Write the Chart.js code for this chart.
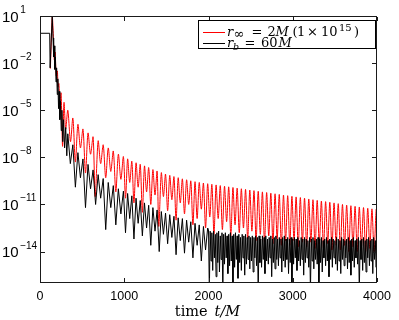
<!DOCTYPE html>
<html><head><meta charset="utf-8">
<script src="https://cdn.jsdelivr.net/npm/chart.js@4/dist/chart.umd.min.js"></script>
<style>html,body{margin:0;padding:0;background:#fff;}#wrap{width:399px;height:320px;position:relative;}</style>
</head><body><div id="wrap"><canvas id="c" width="399" height="320"></canvas></div>
<script>
// ---- tick labels / axis ----
const xTicks = [0, 1000, 2000, 3000, 4000];
const yTickExp = [1, -2, -5, -8, -11, -14];
const seriesNames = ['r∞ = 2M(1 × 10^15)', 'r_b = 60M'];
const seriesColors = ['#ff0000', '#000000'];

// ---- red series: r_inf = 2M(1e15) (time, log10 |psi|) ----
const redT = [123,146,160,170,180,192,206,214,224,236,250,268,285,305,
330,362,390,420,450,480,510,540,570,600,630,655,690,720,750,780,810,840,870,900,930,960,990,1015,
1040,1065,1090,1115,1140,1165,1190,1215,1240,1265,1290,1315,1340,1365,1390,1410,1440,1465,1490,1515,1540,1565,1590,1615,1640,1665,1690,1715,1740,1765,1790,1815,1840,1865,1890,1915,1940,1965,1990,2015,
2040,2065,2090,2115,2140,2165,2190,2215,2240,2265,2290,2315,2340,2365,2390,2415,2440,2465,2490,2515,2540,2565,2590,2615,2640,2665,2690,2715,2740,2765,2790,2815,2840,2865,2890,2915,2940,2965,2990,3015,3040,3065,3090,3115,3140,3165,3190,3215,3240,3265,3290,3315,3340,3365,3390,3415,3440,3465,3490,3515,3540,3565,3590,3615,3640,3665,3690,3715,3740,3765,3790,3815,3840,3865,3890,3915,3940,3965,3990,4000];
const redLog = [-2.35,0.95,-0.6,-1.8,-1.3,-2.8,-2.5,-3.5,-3.3,-4.6,-3.9,-7.3,-4.5,-6.2,
-5.0,-7.0,-5.5,-8.3,-5.9,-7.4,-6.2,-9.0,-6.45,-7.8,-6.7,-10.5,-6.95,-8.4,-7.2,-9.3,-7.4,-8.9,-7.6,-10.2,-7.8,-9.4,-7.95,-10.6,
-8.1,-9.6,-8.25,-10.9,-8.35,-9.9,-8.45,-11.5,-8.55,-10.2,-8.65,-11.0,-8.78,-10.4,-8.88,-12.4,-8.98,-10.5,-9.07,-11.4,-9.15,-10.7,-9.23,-12.0,-9.3,-10.9,-9.37,-11.6,-9.43,-11.0,-9.5,-12.3,-9.55,-11.9,-9.6,-11.3,-9.64,-12.5,-9.68,-11.8,
-9.72,-12.9,-9.76,-11.9,-9.8,-12.6,-9.84,-12.1,-9.88,-13.0,-9.92,-12.3,-9.96,-12.8,-10.0,-12.5,-10.04,-13.2,-10.08,-12.7,-10.12,-13.3,-10.16,-12.9,-10.2,-13.4,-10.24,-13.0,-10.28,-13.5,-10.32,-13.2,-10.36,-13.6,-10.4,-13.3,-10.44,-13.6,-10.48,-13.3,-10.52,-13.7,-10.56,-13.4,-10.6,-13.7,-10.65,-13.4,-10.7,-13.8,-10.74,-13.5,-10.78,-13.8,-10.82,-13.5,-10.86,-13.9,-10.9,-13.6,-10.95,-13.9,-11.0,-13.6,-11.04,-14.0,-11.08,-13.7,-11.12,-14.0,-11.16,-13.7,-11.2,-14.0,-11.24,-13.8,-11.28,-14.0,-11.32,-11.6];

// ---- black series: r_b = 60M, ringdown part ----
const blackT = [0,115,120,145,155,162,168,176,183,190,197,205,212,220,227,235,243,252,260,270,280,292,305,318,
330,360,390,420,450,480,510,540,570,600,630,660,690,720,750,780,810,840,870,900,930,960,990,1015,
1040,1065,1090,1115,1140,1165,1190,1215,1240,1265,1290,1315,1340,1365,1390,1415,1440,1465,1490,1515,1540,1565,1590,1615,1640,1665,1690,1715,1740,1765,1790,1815,1840,1865,1890,1915,1940,1965,1990];
const blackLog = [-0.1,-0.1,-2.3,0.95,-0.4,-1.6,-0.9,-2.4,-1.6,-3.2,-2.3,-4.0,-3.0,-4.9,-3.8,-5.6,-4.4,-6.3,-5.0,-7.0,-5.6,-7.4,-6.1,-7.9,
-6.5,-8.4,-7.2,-9.9,-7.7,-9.3,-8.1,-11.2,-8.45,-10.0,-8.8,-11.0,-9.1,-10.6,-9.35,-12.6,-9.6,-11.2,-9.8,-12.3,-10.0,-11.6,-10.15,-12.8,
-10.3,-11.9,-10.45,-13.2,-10.6,-12.2,-10.75,-13.0,-10.9,-12.5,-11.05,-13.6,-11.2,-12.7,-11.35,-14.0,-11.45,-12.9,-11.55,-13.5,-11.65,-13.1,-11.75,-14.2,-11.85,-13.3,-11.9,-14.1,-12.0,-13.4,-12.1,-14.4,-12.2,-13.6,-12.3,-14.6,-12.4,-13.9,-12.5];

// ---- black series: noise floor part ----
const noiseT = [2000,2010,2020,2030,2040,2050,2060,2070,2080,2090,2100,2110,2120,2130,2140,2150,2160,2170,2180,2190,
2200,2210,2220,2230,2240,2250,2260,2270,2280,2290,2300,2310,2320,2330,2340,2350,2360,2370,2380,2390,
2400,2410,2420,2430,2440,2450,2460,2470,2480,2490,2500,2510,2520,2530,2540,2550,2560,2570,2580,2590,
2600,2610,2620,2630,2640,2650,2660,2670,2680,2690,2700,2710,2720,2730,2740,2750,2760,2770,2780,2790,
2800,2810,2820,2830,2840,2850,2860,2870,2880,2890,2900,2910,2920,2930,2940,2950,2960,2970,2980,2990,
3000,3010,3020,3030,3040,3050,3060,3070,3080,3090,3100,3110,3120,3130,3140,3150,3160,3170,3180,3190,
3200,3210,3220,3230,3240,3250,3260,3270,3280,3290,3300,3310,3320,3330,3340,3350,3360,3370,3380,3390,
3400,3410,3420,3430,3440,3450,3460,3470,3480,3490,3500,3510,3520,3530,3540,3550,3560,3570,3580,3590,
3600,3610,3620,3630,3640,3650,3660,3670,3680,3690,3700,3710,3720,3730,3740,3750,3760,3770,3780,3790,
3800,3810,3820,3830,3840,3850,3860,3870,3880,3890,3900,3910,3920,3930,3940,3950,3960,3970,3980,3990,4000];
const noiseLog = [-12.6,-16.5,-12.7,-14.6,-12.8,-15.2,-12.7,-14.4,-12.9,-15.6,-12.8,-14.7,-12.7,-15.3,-13.0,-14.5,-12.8,-16.5,-12.9,-14.8,
-12.8,-14.4,-13.0,-15.4,-12.9,-14.9,-12.8,-14.6,-13.0,-16.5,-12.9,-15.0,-12.8,-14.5,-13.0,-15.7,-12.9,-14.7,-13.1,-15.2,
-12.9,-14.4,-13.0,-15.5,-12.9,-14.8,-13.1,-14.5,-13.0,-15.1,-13.1,-14.6,-13.0,-15.3,-13.1,-14.4,-13.0,-14.9,-13.1,-16.5,
-13.0,-14.7,-13.2,-15.0,-13.0,-14.5,-13.1,-15.4,-13.0,-14.6,-13.2,-14.8,-13.1,-14.4,-13.0,-15.6,-13.2,-14.7,-13.1,-15.1,
-13.0,-14.5,-13.2,-14.9,-13.1,-14.4,-13.2,-15.3,-13.1,-14.6,-13.0,-15.0,-13.2,-14.5,-13.1,-15.4,-13.2,-14.7,-13.1,-16.5,
-13.2,-14.8,-13.1,-14.4,-13.2,-15.2,-13.1,-14.6,-13.3,-14.9,-13.1,-14.5,-13.2,-15.5,-13.1,-14.7,-13.2,-14.4,-13.3,-15.0,
-13.1,-16.5,-13.2,-14.6,-13.1,-15.1,-13.3,-14.5,-13.2,-14.8,-13.1,-16.5,-13.2,-14.7,-13.1,-15.3,-13.3,-14.4,-13.2,-14.9,
-13.1,-14.6,-13.3,-15.6,-13.2,-14.5,-13.1,-15.0,-13.2,-14.4,-13.3,-14.8,-13.1,-15.2,-13.2,-14.6,-13.3,-15.4,-13.1,-14.5,
-13.2,-14.9,-13.3,-14.4,-13.2,-15.1,-13.1,-14.7,-13.3,-15.5,-13.2,-14.6,-13.1,-15.0,-13.3,-14.4,-13.2,-14.8,-13.1,-16.5,
-13.3,-14.5,-13.2,-15.2,-13.1,-14.7,-13.3,-15.3,-13.2,-14.4,-13.1,-14.9,-13.3,-14.6,-13.2,-15.4,-13.1,-14.5,-13.3,-15.0,-13.2];

const redData = redT.map((t, i) => ({x: t, y: Math.pow(10, redLog[i])}));
const blackData = blackT.map((t, i) => ({x: t, y: Math.pow(10, blackLog[i])}))
  .concat(noiseT.map((t, i) => ({x: t, y: Math.pow(10, noiseLog[i])})));

const SANS = '"Liberation Sans", Arial, sans-serif';
const SERIF = '"DejaVu Serif", "Liberation Serif", serif';

function rich(ctx, x, y, parts) {
  for (const p of parts) {
    ctx.font = p.f;
    ctx.fillText(p.t, p.x !== undefined ? p.x : x, y + (p.dy || 0));
    x = (p.x !== undefined ? p.x : x) + ctx.measureText(p.t).width;
  }
  return x;
}

const framePlugin = {
  id: 'frame',
  afterDraw(chart) {
    const ctx = chart.ctx, a = chart.chartArea;
    const xs = chart.scales.x, ys = chart.scales.y;
    ctx.save();
    ctx.fillStyle = '#1a1a1a';
    const L = Math.round(a.left), R = Math.round(a.right) - 1;
    const T = Math.round(a.top), B = Math.round(a.bottom) - 1;
    ctx.fillRect(L, T, R - L + 1, 1);
    ctx.fillRect(L, B, R - L + 1, 1);
    ctx.fillRect(L, T, 1, B - T + 1);
    ctx.fillRect(R, T, 1, B - T + 1);
    for (const v of xTicks) {
      const px = Math.round(xs.getPixelForValue(v));
      ctx.fillRect(px, B - 4, 1, 4);
      ctx.fillRect(px, T + 1, 1, 4);
    }
    for (const e of yTickExp) {
      const py = Math.round(ys.getPixelForValue(Math.pow(10, e)));
      ctx.fillRect(L + 1, py, 4, 1);
      ctx.fillRect(R - 4, py, 4, 1);
    }
    // tick labels
    ctx.fillStyle = '#000';
    ctx.textBaseline = 'middle';
    ctx.textAlign = 'center';
    ctx.font = '12.5px ' + SANS;
    for (const v of xTicks) {
      ctx.fillText(String(v), xs.getPixelForValue(v), B + 15);
    }
    ctx.textAlign = 'left';
    for (const e of yTickExp) {
      const py = ys.getPixelForValue(Math.pow(10, e));
      ctx.textBaseline = 'middle';
      ctx.font = '15px ' + SANS;
      ctx.fillText('10', 2, py + 1.5);
      const w = ctx.measureText('10').width;
      ctx.font = '10px ' + SANS;
      ctx.textBaseline = 'alphabetic';
      ctx.fillText(e < 0 ? '\u2212' + Math.abs(e) : String(e), 2 + w + 1.5, py - 3);
    }
    // axis title
    ctx.textBaseline = 'alphabetic';
    const f1 = '14.5px ' + SERIF, f2 = 'italic 14.5px ' + SERIF;
    ctx.font = f1; const tw1 = ctx.measureText('time').width;
    ctx.font = f2; const tw2 = ctx.measureText('t/M').width;
    const gap = 7;
    const cx = 207.5;
    const x0 = cx - (tw1 + gap + tw2) / 2;
    rich(ctx, x0, 316, [{t: 'time', f: f1}, {t: 't/M', f: f2, x: x0 + tw1 + gap}]);
    // legend
    const lx = 198.5, ly = 20.5, lw = 177, lh = 28;
    ctx.fillStyle = '#fff';
    ctx.fillRect(lx, ly, lw, lh);
    ctx.strokeStyle = '#000';
    ctx.lineWidth = 1;
    ctx.strokeRect(lx, ly, lw, lh);
    const rows = [32, 43];
    for (let i = 0; i < 2; i++) {
      ctx.strokeStyle = seriesColors[i];
      ctx.beginPath();
      ctx.moveTo(203, rows[i] + 0.5); ctx.lineTo(225, rows[i] + 0.5);
      ctx.stroke();
    }
    ctx.fillStyle = '#000';
    const F = '13px ' + SERIF, FI = 'italic 13px ' + SERIF, FS = '10px ' + SERIF, FSI = 'italic 9.5px ' + SERIF;
    rich(ctx, 227, rows[0] + 4, [
      {t: 'r', f: FI, x: 227}, {t: '\u221E', f: '13px ' + SERIF, dy: 2, x: 233.5}, {t: '=', f: F, x: 251.5}, {t: '2', f: F, x: 267.5},
      {t: 'M', f: FI, x: 275.5}, {t: '(', f: F, x: 292.5}, {t: '1', f: F, x: 297}, {t: '\u00D7', f: F, x: 307},
      {t: '10', f: F, x: 321}, {t: '15', f: FS, dy: -5, x: 339}, {t: ')', f: F, x: 354}
    ]);
    rich(ctx, 227, rows[1] + 4, [
      {t: 'r', f: FI, x: 227}, {t: 'b', f: FSI, dy: 2.5, x: 233}, {t: '=', f: F, x: 244.5}, {t: '60', f: F, x: 261},
      {t: 'M', f: FI, x: 278.5}
    ]);
    ctx.restore();
  }
};

new Chart(document.getElementById('c'), {
  type: 'line',
  data: {
    datasets: [
      {label: seriesNames[0], data: redData, borderColor: seriesColors[0], borderWidth: 1, pointRadius: 0, order: 2, fill: false, tension: 0.3},
      {label: seriesNames[1], data: blackData, borderColor: seriesColors[1], borderWidth: 1, pointRadius: 0, order: 1, fill: false, tension: 0}
    ]
  },
  options: {
    responsive: false,
    animation: false,
    events: [],
    layout: {padding: {left: 40, right: 22, top: 16, bottom: 37}},
    plugins: {legend: {display: false}, tooltip: {enabled: false}},
    scales: {
      x: {type: 'linear', min: 0, max: 4000, display: false},
      y: {type: 'logarithmic', min: 1e-16, max: 10, display: false}
    }
  },
  plugins: [framePlugin]
});
</script>
</body></html>
